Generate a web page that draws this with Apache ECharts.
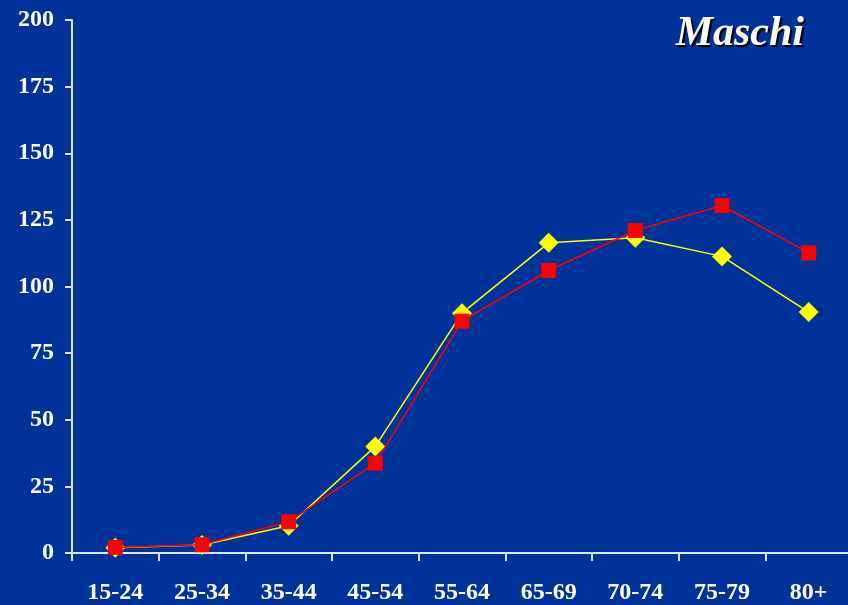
<!DOCTYPE html>
<html><head><meta charset="utf-8">
<script src="https://cdn.jsdelivr.net/npm/echarts@6/dist/echarts.min.js"></script>
<style>html,body{margin:0;padding:0;background:#003399;overflow:hidden;width:848px;height:605px;}#c{width:870px;height:605px;}</style>
</head><body><div id="c"></div>
<script>
const categories = ['15-24','25-34','35-44','45-54','55-64','65-69','70-74','75-79','80+'];
const yellowValues = [2, 3, 10.2, 40, 90, 116.4, 118.3, 111.3, 90.4];
const redValues = [2.1, 3.1, 11.7, 33.7, 87, 106, 121, 130.4, 112.6];
const yTicks = [0, 25, 50, 75, 100, 125, 150, 175, 200];
const titleText = 'Maschi';

const chart = echarts.init(document.getElementById('c'));
const axisColor = '#dfe6f5';
const font = 'Liberation Serif, Times New Roman, serif';
chart.setOption({
  backgroundColor: '#003399',
  animation: false,
  title: {
    text: titleText, right: 61, top: 8,
    textStyle: { color: '#ffffff', fontFamily: font, fontStyle: 'italic', fontWeight: 'bold', fontSize: 42,
      textShadowColor: '#000000', textShadowOffsetX: 2, textShadowOffsetY: 2, textShadowBlur: 1 }
  },
  grid: { left: 72, top: 20, width: 780, height: 534, containLabel: false },
  xAxis: {
    type: 'category', data: categories, boundaryGap: true,
    axisLine: { lineStyle: { color: axisColor, width: 2 } },
    axisTick: { show: true, length: 8, alignWithLabel: false, lineStyle: { color: axisColor, width: 2 } },
    axisLabel: { color: '#ffffff', fontFamily: font, fontWeight: 'bold', fontSize: 24, margin: 28 }
  },
  yAxis: {
    type: 'value', min: yTicks[0], max: yTicks[yTicks.length - 1], interval: 25,
    splitLine: { show: false },
    axisLine: { show: true, lineStyle: { color: axisColor, width: 2 } },
    axisTick: { show: true, length: 7, lineStyle: { color: axisColor, width: 2 } },
    axisLabel: { color: '#ffffff', fontFamily: font, fontWeight: 'bold', fontSize: 24, margin: 18 }
  },
  series: [
    { name: 'A', type: 'line', data: yellowValues, symbol: 'diamond', symbolSize: 20,
      lineStyle: { color: '#ffff00', width: 1.5 }, itemStyle: { color: '#ffff00' }, z: 2 },
    { name: 'B', type: 'line', data: redValues, symbol: 'rect', symbolSize: 15,
      lineStyle: { color: '#ff0000', width: 1.5 }, itemStyle: { color: '#ff0000' }, z: 3 }
  ]
});
</script></body></html>
